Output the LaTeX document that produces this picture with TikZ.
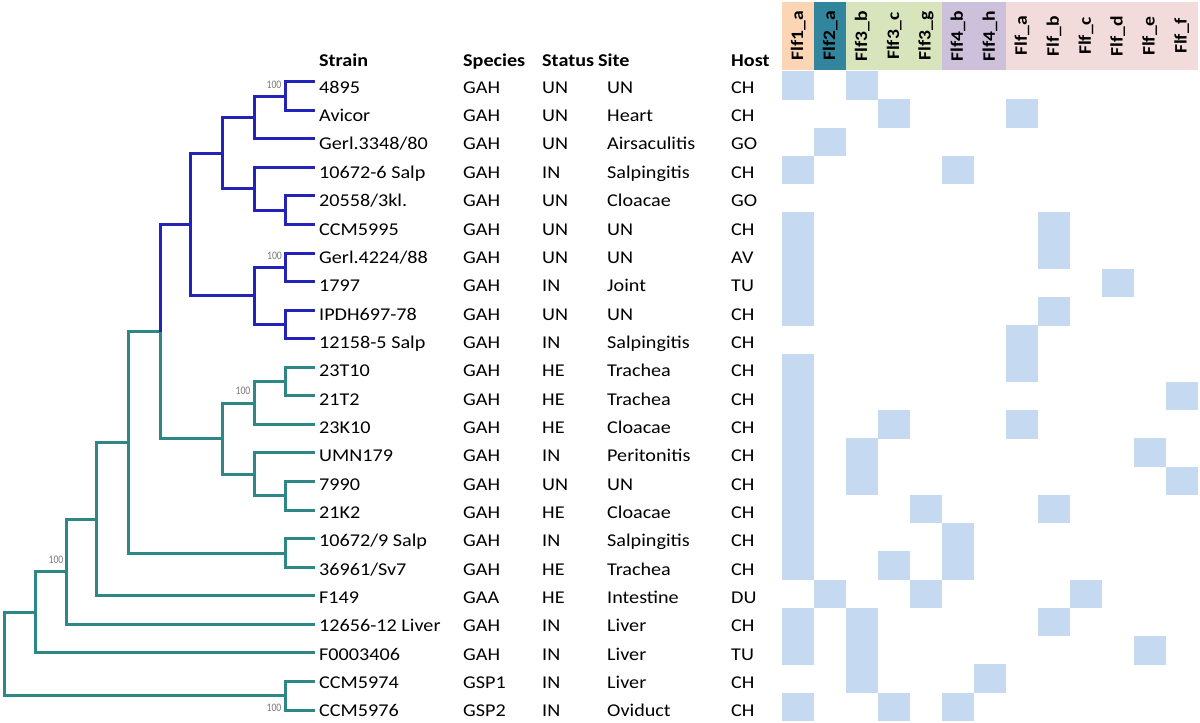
\documentclass[tikz,border=0pt]{standalone}
\usepackage{fontspec}
\setmainfont{Carlito}[FakeStretch=1.12]
\newfontfamily\labfont{Carlito}[FakeStretch=0.85]
\definecolor{treeblue}{RGB}{35,35,185}
\definecolor{treeteal}{RGB}{45,135,135}
\definecolor{bootgray}{RGB}{120,120,120}
\definecolor{cellblue}{HTML}{C5D9F1}
\definecolor{hA}{HTML}{FCD5B4}
\definecolor{hB}{HTML}{31859C}
\definecolor{hC}{HTML}{D8E4BC}
\definecolor{hD}{HTML}{CCC0DA}
\definecolor{hE}{HTML}{F2DCDB}
\begin{document}
\begin{tikzpicture}[x=1pt,y=-1pt,
  tree/.style={line width=3pt},
  bl/.style={tree,draw=treeblue},
  tl/.style={tree,draw=treeteal},
  txt/.style={anchor=base west,inner sep=0pt,font=\fontsize{18}{20}\selectfont},
  hdr/.style={anchor=base west,inner sep=0pt,font=\fontsize{18}{20}\selectfont\bfseries},
  boot/.style={inner sep=0pt,font=\labfont\fontsize{11.5}{12}\selectfont,text=bootgray},
  colhdr/.style={rotate=90,inner sep=0pt,font=\fontsize{17.5}{18}\selectfont\bfseries},
  cell/.style={fill=cellblue}]
\useasboundingbox (0,0) rectangle (1200,723);

% ---------- heatmap header backgrounds ----------
\fill[hA] (782.3,2) rectangle (814.25,70);
\fill[hB] (814.25,2) rectangle (846.2,70);
\fill[hC] (846.2,2) rectangle (942.05,70);
\fill[hD] (942.05,2) rectangle (1005.95,70);
\fill[hE] (1005.95,2) rectangle (1197.65,70);
\foreach [count=\j] \h in {Flf1\_a,Flf2\_a,Flf3\_b,Flf3\_c,Flf3\_g,Flf4\_b,Flf4\_h,Flf\_a,Flf\_b,Flf\_c,Flf\_d,Flf\_e,Flf\_f}{
  \node[colhdr] (ch\j) at ({782.3+(\j-0.5)*31.95},36) {\h};
}

% ---------- heatmap cells ----------
\foreach \r/\c in {1/1,1/3,2/4,2/8,3/2,4/1,4/6,6/1,6/9,7/1,7/9,8/1,8/11,9/1,9/9,10/8,
  11/1,11/8,12/1,12/13,13/1,13/4,13/8,14/1,14/3,14/12,15/1,15/3,15/13,16/1,16/5,16/9,
  17/1,17/6,18/1,18/4,18/6,19/2,19/5,19/10,20/1,20/3,20/9,21/1,21/3,21/12,22/3,22/7,
  23/1,23/4,23/6}{
  \fill[cell] ({782.3+(\c-1)*31.95},{71+(\r-1)*28.26}) rectangle +(31.95,28.5);
}

% ---------- table ----------
\node[hdr] (hS) at (319,66) {Strain};
\node[hdr] (hSp) at (463,66) {Species};
\node[hdr] (hSt) at (542,66) {Status};
\node[hdr] (hSi) at (598,66) {Site};
\node[hdr] (hH) at (731,66) {Host};
\foreach [count=\i] \st/\sp/\sa/\si/\ho in {
  4895/GAH/UN/UN/CH,
  Avicor/GAH/UN/Heart/CH,
  {Gerl.3348/80}/GAH/UN/Airsaculitis/GO,
  10672-6 Salp/GAH/IN/Salpingitis/CH,
  {20558/3kl.}/GAH/UN/Cloacae/GO,
  CCM5995/GAH/UN/UN/CH,
  {Gerl.4224/88}/GAH/UN/UN/AV,
  1797/GAH/IN/Joint/TU,
  IPDH697-78/GAH/UN/UN/CH,
  12158-5 Salp/GAH/IN/Salpingitis/CH,
  23T10/GAH/HE/Trachea/CH,
  21T2/GAH/HE/Trachea/CH,
  23K10/GAH/HE/Cloacae/CH,
  UMN179/GAH/IN/Peritonitis/CH,
  7990/GAH/UN/UN/CH,
  21K2/GAH/HE/Cloacae/CH,
  {10672/9 Salp}/GAH/IN/Salpingitis/CH,
  {36961/Sv7}/GAH/HE/Trachea/CH,
  F149/GAA/HE/Intestine/DU,
  12656-12 Liver/GAH/IN/Liver/CH,
  F0003406/GAH/IN/Liver/TU,
  CCM5974/GSP1/IN/Liver/CH,
  CCM5976/GSP2/IN/Oviduct/CH}{
  \pgfmathsetmacro\yb{93.3+(\i-1)*28.34}
  \node[txt] (st\i) at (319,\yb) {\st};
  \node[txt] (sp\i) at (463,\yb) {\sp};
  \node[txt] (sa\i) at (542,\yb) {\sa};
  \node[txt] (si\i) at (607,\yb) {\si};
  \node[txt] (ho\i) at (731,\yb) {\ho};
}

% ---------- tree ----------
\foreach \i in {1,...,23}{
  \coordinate (l\i) at (315,{81.7+(\i-1)*28.56});
}
\coordinate (A) at (285,96.0);
\coordinate (B) at (254,117.4);
\coordinate (E) at (285,210.2);
\coordinate (D) at (254,188.8);
\coordinate (C) at (222,153.1);
\coordinate (H) at (285,267.4);
\coordinate (I) at (285,324.5);
\coordinate (G) at (254,295.9);
\coordinate (F) at (190.7,224.5);
\coordinate (Mb) at (285,381.6);
\coordinate (M) at (254,403.0);
\coordinate (Nb) at (285,495.8);
\coordinate (N) at (254,474.4);
\coordinate (K) at (222,438.7);
\coordinate (J) at (160,331.6);
\coordinate (P) at (285,553.0);
\coordinate (L) at (128.3,442.3);
\coordinate (Q) at (96.7,519.0);
\coordinate (R) at (66.7,571.7);
\coordinate (S) at (35,612.3);
\coordinate (U) at (285,695.8);
\coordinate (T) at (4,654.0);

% teal part
\draw[tl] (Mb) |- (l11) (Mb) |- (l12);
\draw[tl] (M) |- (Mb) (M) |- (l13);
\draw[tl] (Nb) |- (l15) (Nb) |- (l16);
\draw[tl] (N) |- (l14) (N) |- (Nb);
\draw[tl] (K) |- (M) (K) |- (N);
\draw[tl] (J) |- (K);
\draw[tl] (P) |- (l17) (P) |- (l18);
\draw[tl] (L) |- (J) (L) |- (P);
\draw[tl] (Q) |- (L) (Q) |- (l19);
\draw[tl] (R) |- (Q) (R) |- (l20);
\draw[tl] (S) |- (R) (S) |- (l21);
\draw[tl] (U) |- (l22) (U) |- (l23);
\draw[tl] (T) |- (S) (T) |- (U);
% blue part
\draw[bl] (A) |- (l1) (A) |- (l2);
\draw[bl] (B) |- (A) (B) |- (l3);
\draw[bl] (E) |- (l5) (E) |- (l6);
\draw[bl] (D) |- (l4) (D) |- (E);
\draw[bl] (C) |- (B) (C) |- (D);
\draw[bl] (H) |- (l7) (H) |- (l8);
\draw[bl] (I) |- (l9) (I) |- (l10);
\draw[bl] (G) |- (H) (G) |- (I);
\draw[bl] (F) |- (C) (F) |- (G);
\draw[bl] (J) |- (F);

% bootstrap values
\node[boot] (bA) at (274,84.5) {100};
\node[boot] (bH) at (274.5,256) {100};
\node[boot] (bM) at (243,390.5) {100};
\node[boot] (bR) at (56,560) {100};
\node[boot] (bU) at (274,708) {100};
\end{tikzpicture}
\end{document}
